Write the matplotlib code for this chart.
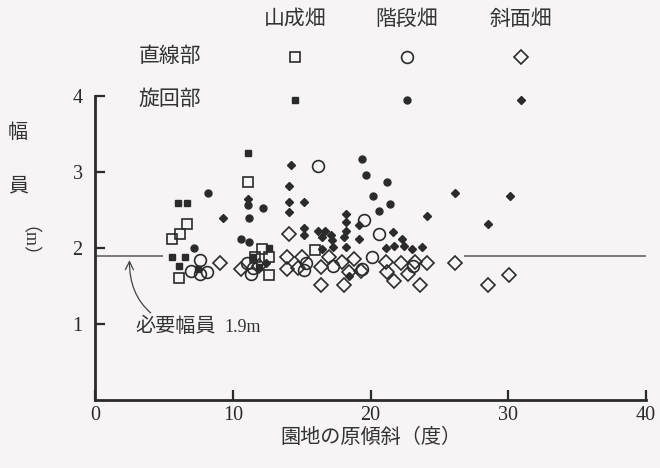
import matplotlib.pyplot as plt

plt.rcParams['font.family'] = ['Liberation Serif', 'Noto Sans CJK JP']

INK = "#2b2b2b"
TEXT = "#333333"
PAPER = "#f6f4f5"

# 山成畑
yama_line_x = [5.55, 6.15, 6.67, 6.13, 11.1, 12.1, 11.6, 12.6, 12.6, 16.0]
yama_line_y = [2.12, 2.19, 2.31, 1.60, 2.87, 1.99, 1.88, 1.88, 1.65, 1.97]
yama_turn_x = [5.99, 6.71, 11.1, 5.55, 6.5, 6.13, 7.5, 11.5, 12.65, 11.9]
yama_turn_y = [2.59, 2.59, 3.25, 1.88, 1.88, 1.77, 1.73, 1.88, 2.00, 1.75]

# 階段畑
step_line_x = [7.6, 7.0, 7.6, 8.1, 11.0, 11.5, 11.3, 16.2, 19.5, 20.6, 20.1, 19.4,
               15.3, 15.15, 23.1, 17.3]
step_line_y = [1.84, 1.70, 1.66, 1.68, 1.80, 1.74, 1.66, 3.08, 2.37, 2.19, 1.88, 1.73,
               1.80, 1.71, 1.77, 1.76]
step_turn_x = [8.2, 7.2, 12.2, 11.15, 10.6, 11.15, 11.1, 19.4, 19.7, 21.2, 20.2, 21.4,
               20.6]
step_turn_y = [2.73, 2.00, 2.53, 2.39, 2.12, 2.08, 2.56, 3.17, 2.96, 2.87, 2.68, 2.58,
               2.49]

# 斜面畑
slope_line_x = [9.1, 10.6, 11.9, 13.9, 13.9, 15.0, 14.7, 14.06, 16.4, 16.4, 17.0, 17.9,
                18.8, 18.4, 18.05, 19.3, 21.1, 22.2, 23.2, 24.1, 26.1, 21.2, 21.7,
                22.7, 23.6, 28.5, 30.05]
slope_line_y = [1.80, 1.72, 1.77, 1.88, 1.72, 1.88, 1.74, 2.19, 1.75, 1.51, 1.88, 1.82,
                1.86, 1.68, 1.51, 1.70, 1.82, 1.80, 1.82, 1.80, 1.80, 1.68, 1.57,
                1.66, 1.51, 1.51, 1.64]
slope_turn_x = [9.3, 11.1, 14.2, 14.1, 14.1, 15.2, 14.1, 15.15, 15.15, 16.2, 16.7, 17.1,
                17.2, 18.2, 18.2, 18.2, 18.1, 19.15, 19.15, 21.6, 22.3, 21.1, 21.7,
                22.4, 23.0, 23.75, 18.2, 17.3, 24.1, 26.1, 30.1, 28.55, 16.5, 12.4,
                18.4, 16.5]
slope_turn_y = [2.40, 2.65, 3.09, 2.82, 2.60, 2.60, 2.48, 2.26, 2.17, 2.23, 2.23, 2.17,
                2.10, 2.45, 2.34, 2.23, 2.14, 2.30, 2.12, 2.21, 2.12, 2.00, 2.03,
                2.03, 1.99, 2.01, 2.01, 2.01, 2.42, 2.72, 2.69, 2.31, 1.99, 1.80,
                1.63, 2.14]

REQ_WIDTH = 1.9
req_line_start = [0, 26.8]
req_line_end = [4.9, 40]

x_ticks = [0, 10, 20, 30, 40]
y_ticks = [1, 2, 3, 4]

open_kw = dict(linestyle="none", markerfacecolor="none", markeredgecolor=INK,
               markeredgewidth=1.2)
fill_kw = dict(linestyle="none", color=INK)

fig = plt.figure(figsize=(6.6, 4.68), dpi=100, facecolor=PAPER)
ax = fig.add_axes([0.144, 0.145, 0.835, 0.65])
ax.set_facecolor(PAPER)

ax.hlines([REQ_WIDTH] * len(req_line_start), req_line_start, req_line_end,
          color="#666666", lw=1.2, zorder=1)

ax.plot(slope_line_x, slope_line_y, "D", markersize=7.5, **open_kw)
ax.plot(yama_line_x, yama_line_y, "s", markersize=7.5, **open_kw)
ax.plot(step_line_x, step_line_y, "o", markersize=8.5, **open_kw)
ax.plot(yama_turn_x, yama_turn_y, "s", markersize=4.5, **fill_kw)
ax.plot(step_turn_x, step_turn_y, "o", markersize=5, **fill_kw)
ax.plot(slope_turn_x, slope_turn_y, "D", markersize=4.3, **fill_kw)

ax.set_xlim(0, 40)
ax.set_ylim(0, 4)
ax.set_xticks(x_ticks)
ax.set_yticks(y_ticks)
ax.tick_params(direction="in", length=7, width=1.6, colors=INK, labelsize=14.5)
ax.tick_params(axis="x", pad=4)
ax.tick_params(axis="y", pad=9)
for side in ("top", "right"):
    ax.spines[side].set_visible(False)
for side in ("left", "bottom"):
    ax.spines[side].set_linewidth(2)
    ax.spines[side].set_color(INK)

ax.set_xlabel("園地の原傾斜（度）", fontsize=14.5, color=TEXT, labelpad=3)

# vertical y label
ax.text(-0.14, 0.878, "幅", transform=ax.transAxes, fontsize=14.5, color=TEXT,
        ha="center", va="center")
ax.text(-0.14, 0.70, "員", transform=ax.transAxes, fontsize=14.5, color=TEXT,
        ha="center", va="center")
ax.text(-0.14, 0.49, "（m）", transform=ax.transAxes, fontsize=13, color=TEXT,
        ha="center", va="center", rotation=-90)

ax.annotate("必要幅員", xy=(2.5, 1.84), xytext=(2.9, 0.96),
            fontsize=14.5, color=TEXT, va="center", ha="left",
            arrowprops=dict(arrowstyle="->", color="#444444", lw=0.9,
                            connectionstyle="arc3,rad=-0.35",
                            shrinkA=2, shrinkB=0))
ax.text(9.4, 0.96, f"{REQ_WIDTH}m", fontsize=13, color=TEXT, va="center", ha="left")

# legend table above the plot
cols = [(0.363, "山成畑", "s"), (0.566, "階段畑", "o"), (0.773, "斜面畑", "D")]
row_line, row_turn, row_head = 1.128, 0.987, 1.25
ax.text(0.136, row_line, "直線部", transform=ax.transAxes, fontsize=15,
        color=TEXT, ha="center", va="center")
ax.text(0.136, row_turn, "旋回部", transform=ax.transAxes, fontsize=15,
        color=TEXT, ha="center", va="center")
open_size = {"s": 7.5, "o": 8.5, "D": 7.5}
fill_size = {"s": 4.5, "o": 5, "D": 4.3}
for cx, name, mk in cols:
    ax.text(cx, row_head, name, transform=ax.transAxes, fontsize=15,
            color=TEXT, ha="center", va="center")
    ax.plot([cx], [row_line], mk, markersize=open_size[mk], transform=ax.transAxes,
            clip_on=False, **open_kw)
    ax.plot([cx], [row_turn], mk, markersize=fill_size[mk], transform=ax.transAxes,
            clip_on=False, **fill_kw)

fig.savefig("out.png", dpi=100, facecolor=PAPER)
